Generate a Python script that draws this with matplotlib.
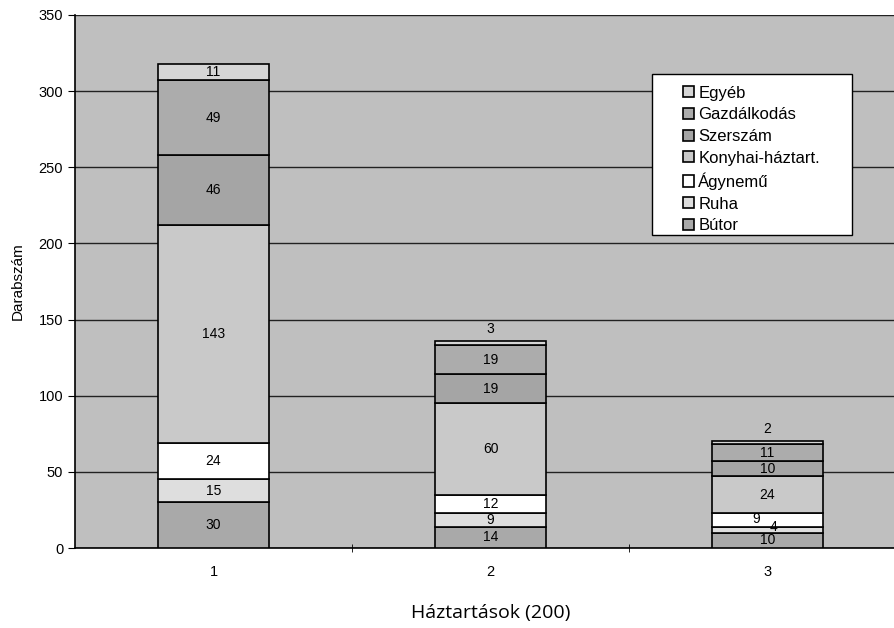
import numpy as np
import matplotlib.pyplot as plt
from matplotlib.ticker import FixedLocator
from matplotlib.patches import Rectangle

households = ['1', '2', '3']
categories = ['Bútor', 'Ruha', 'Ágynemű', 'Konyhai-háztart.', 'Szerszám', 'Gazdálkodás', 'Egyéb']
butor = [30, 14, 10]
ruha = [15, 9, 4]
agynemu = [24, 12, 9]
konyhai = [143, 60, 24]
szerszam = [46, 19, 10]
gazdalkodas = [49, 19, 11]
egyeb = [11, 3, 2]

colors = ['#a9a9a9', '#dedede', '#ffffff', '#c9c9c9', '#a5a5a5', '#acacac', '#d6d6d6']

plt.rcParams['font.family'] = ['Liberation Sans', 'DejaVu Sans']

fig = plt.figure(figsize=(8.94, 6.28), dpi=100)
ax = fig.add_axes([75 / 894, 80 / 628, 831 / 894, 533 / 628])
ax.set_facecolor('#bfbfbf')

x = np.arange(1, 4)
series = [butor, ruha, agynemu, konyhai, szerszam, gazdalkodas, egyeb]
bottom = np.zeros(3)
for name, vals, c in zip(categories, series, colors):
    vals = np.array(vals)
    ax.bar(x, vals, 0.4, bottom=bottom, color=c, edgecolor='black', linewidth=1.2,
           label=name, zorder=3)
    for xi, b, v in zip(x, bottom, vals):
        ty = b + v / 2
        tx = xi
        if name == 'Egyéb' and v < 5:
            ty = b + v + 8
        elif v < 5:
            # tiny segment: label sits a bit right, as in the original
            tx, ty = xi + 0.022, ty + 1.5
        elif v < 10 and name == 'Ágynemű':
            tx, ty = xi - 0.04, ty + 0.5
        ax.text(tx, ty, str(v), ha='center', va='center', fontsize=10, zorder=4)
    bottom += vals

ax.set_xlim(0.5, 3.5)
ax.set_ylim(0, 350)
ax.set_yticks(np.arange(0, 351, 50))
ax.yaxis.grid(True, color='#222222', linewidth=1)
ax.set_axisbelow(True)
ax.set_xticks(x)
ax.set_xticklabels(households)
ax.xaxis.set_minor_locator(FixedLocator([1.5, 2.5]))
ax.tick_params(axis='x', which='major', length=0, pad=12, labelsize=10.5)
ax.tick_params(axis='x', which='minor', length=6, direction='inout')
ax.tick_params(axis='y', length=5, labelsize=10.5)
for s in ['top', 'right']:
    ax.spines[s].set_visible(False)
ax.spines['left'].set_linewidth(1.2)
ax.spines['bottom'].set_linewidth(1.2)

ax.set_ylabel('Darabszám', fontsize=11, labelpad=10)
ax.set_xlabel('Háztartások (200)', fontsize=14, labelpad=18,
              family=['Open Sans', 'DejaVu Sans'])

# legend frame drawn separately (wider side padding than legend allows)
ax.add_patch(Rectangle((0.694, 0.587), 0.241, 0.302, transform=ax.transAxes,
                       facecolor='white', edgecolor='black', linewidth=1, zorder=5))
h, l = ax.get_legend_handles_labels()
leg = ax.legend(h[::-1], l[::-1], loc='upper left', bbox_to_anchor=(0.722, 0.883),
                fontsize=12, frameon=False,
                handlelength=0.65, handleheight=0.65, handletextpad=0.25,
                labelspacing=0.4, borderpad=0)
leg.set_zorder(6)

plt.savefig('out.png', dpi=100)
